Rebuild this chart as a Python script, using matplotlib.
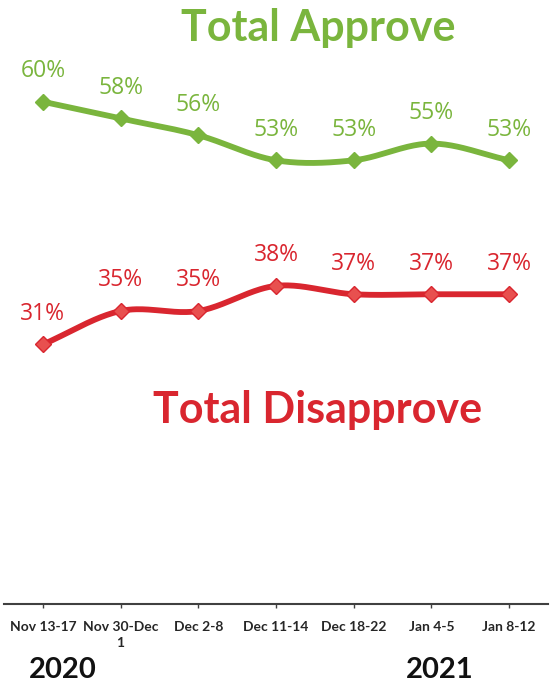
import numpy as np
import matplotlib
matplotlib.use("Agg")
import matplotlib.pyplot as plt

categories = ["Nov 13-17", "Nov 30-Dec\n1", "Dec 2-8", "Dec 11-14", "Dec 18-22", "Jan 4-5", "Jan 8-12"]
approve = [60, 58, 56, 53, 53, 55, 53]
disapprove = [31, 35, 35, 38, 37, 37, 37]

GREEN = "#7ab53d"
RED = "#d9262f"
RED_MK = "#e8504f"

plt.rcParams['font.family'] = ['Lato', 'DejaVu Sans']

def smooth(y, n=40):
    y = np.asarray(y, float)
    x = np.arange(len(y), dtype=float)
    m = np.zeros_like(y)
    m[1:-1] = (y[2:] - y[:-2]) / 2.0
    m[0] = y[1] - y[0]
    m[-1] = y[-1] - y[-2]
    xs, ys = [], []
    for i in range(len(y) - 1):
        t = np.linspace(0, 1, n)
        h00 = 2*t**3 - 3*t**2 + 1
        h10 = t**3 - 2*t**2 + t
        h01 = -2*t**3 + 3*t**2
        h11 = t**3 - t**2
        ys.append(h00*y[i] + h10*m[i] + h01*y[i+1] + h11*m[i+1])
        xs.append(x[i] + t)
    return np.concatenate(xs), np.concatenate(ys)

fig = plt.figure(figsize=(5.51, 6.85), dpi=100)
ax = fig.add_axes([4/551, 81/685, 544/551, 586/685])
ax.set_xlim(-0.5, len(categories) - 0.5)
ax.set_ylim(0, 70)

x = np.arange(len(categories))
for vals, col, mk in [(approve, GREEN, GREEN), (disapprove, RED, RED_MK)]:
    sx, sy = smooth(vals)
    ax.plot(sx, sy, color=col, lw=4.2, solid_capstyle='round', zorder=2)
    ax.plot(x, vals, ls='none', marker='D', markersize=8, markerfacecolor=mk,
            markeredgecolor=col, markeredgewidth=1, zorder=3)
    for xi, v in zip(x, vals):
        ax.annotate(f"{v}%", (xi, v), xytext=(0, 22), textcoords='offset points',
                    ha='center', va='center', fontsize=16.5, color=col,
                    family=['Open Sans', 'DejaVu Sans'])

for s in ['left', 'right', 'top']:
    ax.spines[s].set_visible(False)
ax.spines['bottom'].set_color('#404040')
ax.spines['bottom'].set_linewidth(1.5)
ax.set_yticks([])
ax.set_xticks(x)
ax.set_xticklabels(categories, fontsize=10, fontweight='bold', color='#262626', linespacing=1.45)
ax.tick_params(axis='x', length=3, width=1, color='#404040', pad=9)

fig.text(318/551, 1 - 28/685, "Total Approve", ha='center', va='center',
         fontsize=31, fontweight='bold', color=GREEN)
fig.text(318/551, 1 - 410/685, "Total Disapprove", ha='center', va='center',
         fontsize=31, fontweight='bold', color=RED)
fig.text(63/551, 1 - 670/685, "2020", ha='center', va='center',
         fontsize=21, fontweight='bold', color='#111111')
fig.text(440/551, 1 - 670/685, "2021", ha='center', va='center',
         fontsize=21, fontweight='bold', color='#111111')

fig.savefig("out.png", dpi=100)
